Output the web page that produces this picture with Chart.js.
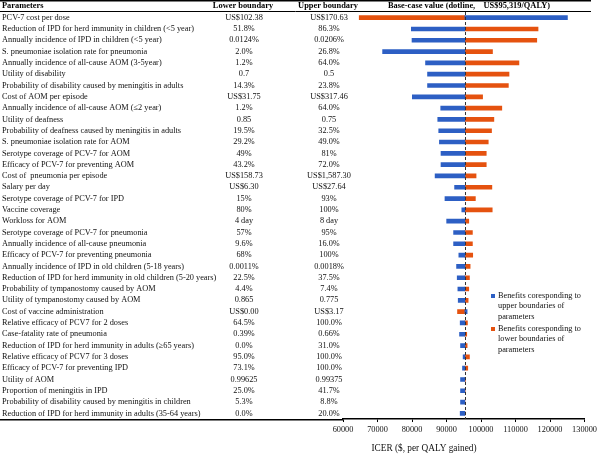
<!DOCTYPE html>
<html>
<head>
<meta charset="utf-8">
<script src="https://cdn.jsdelivr.net/npm/chart.js@4"></script>
<style>
  body { margin: 0; background: #fff; }
  #wrap { width: 600px; height: 456px; }
</style>
</head>
<body>
<div id="wrap"><canvas id="tornado" width="600" height="456"></canvas></div>
<script>
const baseCase = 95319;

const params = [
    'PCV-7 cost per dose',
    'Reduction of IPD for herd immunity in children (<5 year)',
    'Annually incidence of IPD in children (<5 year)',
    'S. pneumoniae isolation rate for pneumonia',
    'Annually incidence of all-cause AOM (3-5year)',
    'Utility of disability',
    'Probability of disability caused by meningitis in adults',
    'Cost of AOM per episode',
    'Annually incidence of all-cause AOM (\u22642 year)',
    'Utility of deafness',
    'Probability of deafness caused by meningitis in adults',
    'S. pneumoniae isolation rate for AOM',
    'Serotype coverage of PCV-7 for AOM',
    'Efficacy of PCV-7 for preventing AOM',
    'Cost of  pneumonia per episode',
    'Salary per day',
    'Serotype coverage of PCV-7 for IPD',
    'Vaccine coverage',
    'Workloss for AOM',
    'Serotype coverage of PCV-7 for pneumonia',
    'Annually incidence of all-cause pneumonia',
    'Efficacy of PCV-7 for preventing pneumonia',
    'Annually incidence of IPD in old children (5-18 years)',
    'Reduction of IPD for herd immunity in old children (5-20 years)',
    'Probability of tympanostomy caused by AOM',
    'Utility of tympanostomy caused by AOM',
    'Cost of vaccine administration',
    'Relative efficacy of PCV7 for 2 doses',
    'Case-fatality rate of pneumonia',
    'Reduction of IPD for herd immunity in adults (\u226565 years)',
    'Relative efficacy of PCV7 for 3 doses',
    'Efficacy of PCV-7 for preventing IPD',
    'Utility of AOM',
    'Proportion of meningitis in IPD',
    'Probability of disability caused by meningitis in children',
    'Reduction of IPD for herd immunity in adults (35-64 years)'
];

const lowerBounds = [
    'US$102.38', '51.8%', '0.0124%', '2.0%', '1.2%', '0.7', '14.3%', 'US$31.75', '1.2%',
    '0.85', '19.5%', '29.2%', '49%', '43.2%', 'US$158.73', 'US$6.30', '15%', '80%',
    '4 day', '57%', '9.6%', '68%', '0.0011%', '22.5%', '4.4%', '0.865', 'US$0.00',
    '64.5%', '0.39%', '0.0%', '95.0%', '73.1%', '0.99625', '25.0%', '5.3%', '0.0%'
];

const upperBounds = [
    'US$170.63', '86.3%', '0.0206%', '26.8%', '64.0%', '0.5', '23.8%', 'US$317.46', '64.0%',
    '0.75', '32.5%', '49.0%', '81%', '72.0%', 'US$1,587.30', 'US$27.64', '93%', '100%',
    '8 day', '95%', '16.0%', '100%', '0.0018%', '37.5%', '7.4%', '0.775', 'US$3.17',
    '100.0%', '0.66%', '31.0%', '100.0%', '100.0%', '0.99375', '41.7%', '8.8%', '20.0%'
];

// ICER at the upper boundary of each parameter (blue)
const icerUpper = [
    125040, 79800, 80000, 71480, 83920, 84500, 84500, 80090, 88320,
    87460, 87740, 87940, 88400, 88400, 86690, 92340, 89550, 94430,
    90040, 92050, 92050, 93570, 92910, 93100, 93290, 93390, 95970,
    93960, 93770, 94060, 94810, 94630, 94060, 94060, 94060, 93960
];

// ICER at the lower boundary of each parameter (orange)
const icerLower = [
    64700, 116520, 116150, 103320, 110980, 108110, 107920, 100450, 106020,
    103720, 103040, 102090, 101510, 101510, 98560, 103140, 98360, 103240,
    96450, 97500, 97500, 97590, 96840, 96640, 96440, 96260, 93190,
    96060, 95860, 95970, 96640, 96150, 95480, 95400, 95319, 95319
];

const xTicksMin = 60000;
const xTicksMax = 130000;
const xTickStep = 10000;

const BLUE = '#2d5fc4';
const ORANGE = '#e5520f';
const SERIF = '"Liberation Serif", "Times New Roman", serif';

const tablePlugin = {
    id: 'tablePlugin',
    afterDraw(chart) {
        const ctx = chart.ctx;
        const x = chart.scales.x;
        const y = chart.scales.y;
        const area = chart.chartArea;
        ctx.save();

        // rules of the table
        ctx.strokeStyle = '#000';
        ctx.lineWidth = 1.5;
        ctx.beginPath();
        ctx.moveTo(0, 0.75); ctx.lineTo(591, 0.75);
        ctx.stroke();
        ctx.lineWidth = 1;
        ctx.beginPath();
        ctx.moveTo(0, 11.5); ctx.lineTo(591, 11.5);
        ctx.stroke();
        ctx.lineWidth = 1.5;
        ctx.beginPath();
        ctx.moveTo(0, area.bottom + 0.75); ctx.lineTo(area.left, area.bottom + 0.75);
        ctx.stroke();

        // header
        ctx.fillStyle = '#000';
        ctx.textBaseline = 'middle';
        ctx.font = 'bold 8.4px ' + SERIF;
        ctx.textAlign = 'left';
        ctx.fillText('Parameters', 2, 6);
        ctx.textAlign = 'center';
        ctx.fillText('Lower boundary', 243, 6);
        ctx.fillText('Upper boundary', 328, 6);
        ctx.fillText('Base-case value (dotline,    US$95,319/QALY)', 469, 6);

        // rows
        ctx.font = '8.3px ' + SERIF;
        ctx.fillStyle = '#111';
        params.forEach((p, i) => {
            const py = y.getPixelForValue(i);
            ctx.save();
            ctx.beginPath();
            ctx.rect(0, py - 6, 227, 12);
            ctx.clip();
            ctx.textAlign = 'left';
            ctx.fillText(p, 2, py);
            ctx.restore();
            ctx.textAlign = 'center';
            ctx.fillText(lowerBounds[i], 244, py);
            ctx.fillText(upperBounds[i], 329, py);
        });

        // base-case dotted line
        const bx = Math.round(x.getPixelForValue(baseCase)) + 0.5;
        ctx.strokeStyle = '#333';
        ctx.lineWidth = 1;
        ctx.setLineDash([3, 2]);
        ctx.beginPath();
        ctx.moveTo(bx, 12); ctx.lineTo(bx, area.bottom);
        ctx.stroke();
        ctx.setLineDash([]);

        // legend
        const legend = [
            { color: BLUE, lines: ['Benefits coresponding to', 'upper boundaries of', 'parameters'], top: 296 },
            { color: ORANGE, lines: ['Benefits coresponding to', 'lower boundaries of', 'parameters'], top: 329 }
        ];
        ctx.textAlign = 'left';
        legend.forEach(item => {
            ctx.fillStyle = item.color;
            ctx.fillRect(491, item.top - 2, 4, 4);
            ctx.fillStyle = '#111';
            item.lines.forEach((t, k) => ctx.fillText(t, 498, item.top + k * 10.3));
        });

        // axis title
        ctx.font = '9.3px ' + SERIF;
        ctx.textAlign = 'center';
        ctx.fillText('ICER ($, per QALY gained)', 424, 449);
        ctx.restore();
    }
};

new Chart(document.getElementById('tornado'), {
    type: 'bar',
    data: {
        labels: params,
        datasets: [
            {
                label: 'Benefits coresponding to upper boundaries of parameters',
                data: icerUpper.map(v => [baseCase, v]),
                backgroundColor: BLUE,
                barThickness: 4,
                grouped: false
            },
            {
                label: 'Benefits coresponding to lower boundaries of parameters',
                data: icerLower.map(v => [baseCase, v]),
                backgroundColor: ORANGE,
                barThickness: 4,
                grouped: false
            }
        ]
    },
    options: {
        indexAxis: 'y',
        responsive: false,
        animation: false,
        layout: { autoPadding: false, padding: { left: 343, right: 12, top: 12, bottom: 18 } },
        plugins: {
            legend: { display: false },
            tooltip: { enabled: false }
        },
        scales: {
            y: { display: false },
            x: {
                min: xTicksMin,
                max: xTicksMax,
                ticks: {
                    stepSize: xTickStep,
                    color: '#111',
                    font: { family: SERIF, size: 8.3 },
                    padding: 3,
                    maxRotation: 0,
                    callback: v => String(v)
                },
                grid: { display: true, drawOnChartArea: false, drawTicks: true, tickLength: 3, color: '#000' },
                border: { display: true, color: '#000', width: 1.5 }
            }
        }
    },
    plugins: [tablePlugin]
});
</script>
</body>
</html>
